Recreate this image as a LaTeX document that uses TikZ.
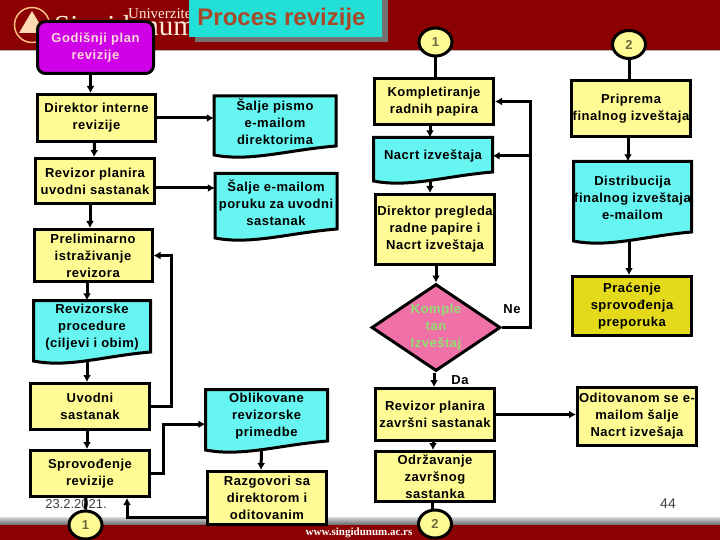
\documentclass[tikz,border=0pt]{standalone}
\usepackage{fontspec}
\setmainfont{Liberation Sans}
\newfontfamily\serifhead{Liberation Serif}
\usetikzlibrary{arrows.meta,shapes.geometric}
\definecolor{bandred}{HTML}{8B0000}
\definecolor{boxyellow}{HTML}{FFFB94}
\definecolor{doccyan}{HTML}{66F5F0}
\definecolor{titlecyan}{HTML}{22E0D8}
\definecolor{titlebrown}{HTML}{A84A2A}
\definecolor{diapink}{HTML}{F070A8}
\definecolor{diagreen}{HTML}{90E070}
\newcommand{\boxfont}{\bfseries\fontsize{13}{17}\selectfont\addfontfeature{LetterSpace=4}}
\tikzset{
  procbox/.style={draw, line width=3pt, fill=boxyellow, inner sep=0pt, align=center, font=\boxfont},
  doctext/.style={inner sep=0pt, align=center, font=\boxfont},
  joinmark/.style={ellipse, draw, line width=3pt, fill=boxyellow, text=black!40!boxyellow!70!black, inner sep=0pt, minimum width=33pt, minimum height=28pt, font=\bfseries\fontsize{13}{15}\selectfont},
  flow/.style={line width=3pt, -{Latex[length=7pt,width=8pt]}},
  plainflow/.style={line width=3pt},
}
\newcommand{\docnode}[6]{
  \pgfmathsetmacro{\docx}{(#2+#4)/2}
  \pgfmathsetmacro{\docy}{(#3+#5-7)/2}
  \pgfmathsetmacro{\docw}{#4-#2}
  \pgfmathsetmacro{\doch}{#5-7-#3}
  \draw[line width=3pt, fill=doccyan] (#2,#5) -- (#2,#3) -- (#4,#3) -- (#4,#5-9)
    .. controls (#2+0.6*\docw,#5-5) and (#2+0.3*\docw,#5+7) .. cycle;
  \node[doctext, minimum width=\docw pt, minimum height=\doch pt] (#1) at (\docx,\docy) {#6};
  \coordinate (#1-b) at (\docx,#5);
}
\begin{document}
\begin{tikzpicture}[x=1pt,y=-1pt]
\useasboundingbox (0,0) rectangle (720,540);
\fill[bandred] (0,0) rectangle (720,50);
\fill[gray!60] (0,50) rectangle (720,51);
\shade[top color=gray!30, bottom color=gray!80!black] (0,517) rectangle (720,525);
\fill[bandred] (0,525) rectangle (720,540);
\draw[line width=1.5pt, draw=orange!50!white, fill=bandred] (32,25) circle (17.5);
\fill[orange!30!white] (32,11) -- (45,33) -- (19,33) -- cycle;
\node[anchor=west, text=orange!15!white, inner sep=0pt, font=\serifhead\fontsize{15}{15}\selectfont] (univ) at (128,14) {Univerzitet};
\node[anchor=west, text=orange!15!white, inner sep=0pt, font=\serifhead\fontsize{29}{29}\selectfont] (sing) at (54,29) {Singidunum};
\fill[gray!90!black] (195,0) rectangle (388,42);
\fill[titlecyan] (189,0) rectangle (382,37);
\node[inner sep=0pt, text=titlebrown, font=\bfseries\fontsize{24}{26}\selectfont] (title) at (281.5,19) {Proces revizije};
\node[anchor=center, text=white, inner sep=0pt, font=\serifhead\bfseries\fontsize{11}{12}\selectfont] (web) at (359,533) {www.singidunum.ac.rs};

\node[procbox, rounded corners=8pt, fill=violet!20!magenta!90!blue, text=pink!60!white, minimum width=116pt, minimum height=52pt] (plan) at (95.5,47.5) {Godišnji plan\\revizije};
\node[procbox, minimum width=118pt, minimum height=47pt] (dir) at (96.5,118) {Direktor interne\\revizije};
\node[procbox, minimum width=119pt, minimum height=45pt] (rev) at (95,181) {Revizor planira\\uvodni sastanak};
\node[procbox, minimum width=118pt, minimum height=52pt] (prelim) at (93,255.5) {Preliminarno\\istraživanje\\revizora};
\docnode{proc}{33.5}{300.5}{150.5}{361}{Revizorske\\procedure\\(ciljevi i obim)}
\node[procbox, minimum width=119pt, minimum height=46pt] (uvod) at (90,406.5) {Uvodni\\sastanak};
\node[procbox, minimum width=119pt, minimum height=46pt] (sprov) at (90,473.5) {Sprovođenje\\revizije};
\node[joinmark] (k1) at (85.5,525) {1};

\docnode{pismo}{214}{96}{336}{155}{Šalje pismo\\e-mailom\\direktorima}
\docnode{poruka}{215}{173.5}{337}{238}{Šalje e-mailom\\poruku za uvodni\\sastanak}
\docnode{oblik}{205.5}{389.5}{327.5}{450}{Oblikovane\\revizorske\\primedbe}
\node[procbox, minimum width=119pt, minimum height=53pt] (razg) at (267,498) {Razgovori sa\\direktorom i\\oditovanim};

\node[joinmark] (g1) at (435.5,42) {1};
\node[procbox, minimum width=119pt, minimum height=46pt] (komp) at (434,101.5) {Kompletiranje\\radnih papira};
\docnode{nacrt}{373.5}{137.5}{492.5}{181}{Nacrt izveštaja}
\node[procbox, minimum width=119pt, minimum height=70pt] (pregled) at (435,229.5) {Direktor pregleda\\radne papire i\\Nacrt izveštaja};
\node[diamond, draw, line width=3pt, fill=diapink, text=diagreen, aspect=1.5, inner sep=0pt, minimum width=129pt, minimum height=87pt, align=center, font=\boxfont] (ocena) at (436,327.5) {Komple\\tan\\Izveštaj};
\node[procbox, minimum width=119pt, minimum height=52pt] (zavrs) at (435,414.5) {Revizor planira\\završni sastanak};
\node[procbox, minimum width=119pt, minimum height=50pt] (odrz) at (435,476.5) {Održavanje\\završnog\\sastanka};
\node[joinmark] (k2) at (435,524) {2};

\node[joinmark] (g2) at (629,44.5) {2};
\node[procbox, minimum width=119pt, minimum height=56pt] (prip) at (631,108.5) {Priprema\\finalnog izveštaja};
\docnode{distr}{573.5}{161.5}{691.5}{241}{Distribucija\\finalnog izveštaja\\e-mailom}
\node[procbox, fill=yellow!88!black, minimum width=119pt, minimum height=59pt] (prac) at (632,306) {Praćenje\\sprovođenja\\preporuka};
\node[procbox, minimum width=119pt, minimum height=58pt] (odit) at (637,416.5) {Oditovanom se e-\\mailom šalje\\Nacrt izvešaja};

\node[doctext] (ne) at (512,309) {Ne};
\node[doctext] (da) at (460,380) {Da};
\node[text=black!75, inner sep=0pt, font=\fontsize{13}{15}\selectfont] (datum) at (76,504) {23.2.2021.};
\node[text=black!75, inner sep=0pt, font=\fontsize{14}{16}\selectfont] (strana) at (668,504) {44};

\coordinate (vrat1) at (171,330);
\coordinate (vrat2) at (530,155);
\coordinate (skret) at (163,450);

\draw[flow] ([xshift=-5pt]plan.south) -- ([xshift=-6pt]dir.north);
\draw[flow] ([xshift=-2pt]dir.south) -- ([xshift=-1pt]rev.north);
\draw[flow] ([xshift=-5pt]rev.south) -- ([xshift=-3pt]prelim.north);
\draw[flow] ([xshift=-6pt]prelim.south) -- ([xshift=-5pt]proc.north);
\draw[flow] ([xshift=-5pt]proc-b) -- ([xshift=-3pt]uvod.north);
\draw[flow] ([xshift=-3pt]uvod.south) -- ([xshift=-3pt]sprov.north);
\draw[plainflow] ([xshift=-4pt]sprov.south) -- (k1.north);
\draw[flow] (dir.east) -- (dir.east -| pismo.west);
\draw[flow] ([yshift=-7pt]rev.east) -- ([yshift=-7pt]rev.east -| poruka.west);
\draw[flow] (uvod.east) -| (vrat1) |- (prelim.east);
\draw[flow] (sprov.east) -| (skret) |- ([yshift=-8pt]oblik.west);
\draw[flow] ([xshift=-5pt]oblik-b) -- ([xshift=-6pt]razg.north);
\draw[flow] ([yshift=-19pt]razg.west) -| ([xshift=37pt]sprov.south);

\draw[plainflow] (g1.south) -- (g1.south |- komp.north);
\draw[flow] ([xshift=-4pt]komp.south) -- ([xshift=-3pt]nacrt.north);
\draw[flow] ([xshift=-3pt]nacrt-b) -- ([xshift=-5pt]pregled.north);
\draw[flow] ([xshift=1pt]pregled.south) -- (ocena.north);
\draw[flow] ([xshift=-2pt]ocena.south) -- ([xshift=-1pt]zavrs.north);
\draw[flow] ([xshift=-2pt]zavrs.south) -- ([xshift=-2pt]odrz.north);
\draw[plainflow] ([xshift=-3pt]odrz.south) -- ([xshift=-3pt]k2.north);
\draw[flow] (ocena.east) -| (vrat2) |- (komp.east);
\draw[flow] (vrat2 |- nacrt.east) -- (nacrt.east);
\draw[flow] (zavrs.east) -- (zavrs.east -| odit.west);

\draw[plainflow] (g2.south) -- (g2.south |- prip.north);
\draw[flow] ([xshift=-3pt]prip.south) -- ([xshift=-3pt]prip.south |- distr.north);
\draw[flow] (distr-b) ++(-3.5,0) -- ([xshift=-3pt]prac.north);
\end{tikzpicture}
\end{document}
